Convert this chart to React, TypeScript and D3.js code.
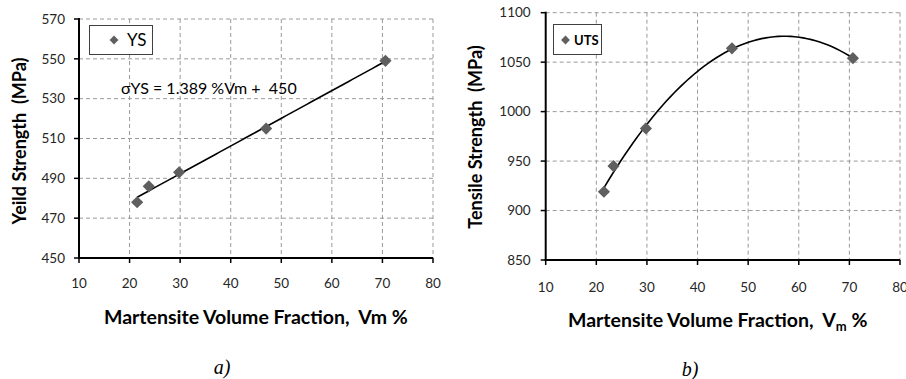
import React, { useEffect, useRef } from 'react';
import * as d3 from 'd3';

// a) yield strength vs martensite volume fraction
const ysVm = [21.5, 23.8, 29.8, 47.0, 70.6];
const ysValues = [478, 486, 493, 515, 549];
const ysTicks = [450, 470, 490, 510, 530, 550, 570];

// b) tensile strength vs martensite volume fraction
const utsVm = [21.5, 23.4, 29.8, 46.8, 70.7];
const utsValues = [919, 945, 983, 1064, 1054];
const utsTicks = [850, 900, 950, 1000, 1050, 1100];

const vmTicks = [10, 20, 30, 40, 50, 60, 70, 80];

const FONT = 'Lato, "Open Sans", sans-serif';

// least squares polynomial fit (degree 1 or 2)
function polyFit(xs: number[], ys: number[], deg: number) {
  const n = deg + 1;
  const A: number[][] = [];
  for (let i = 0; i < n; i++) {
    A.push([]);
    for (let j = 0; j < n; j++) A[i].push(d3.sum(xs, x => Math.pow(x, i + j)));
    A[i].push(d3.sum(xs, (x, k) => Math.pow(x, i) * ys[k]));
  }
  // gauss elimination
  for (let i = 0; i < n; i++) {
    for (let k = i + 1; k < n; k++) {
      const f = A[k][i] / A[i][i];
      for (let j = i; j <= n; j++) A[k][j] -= f * A[i][j];
    }
  }
  const c = new Array(n).fill(0);
  for (let i = n - 1; i >= 0; i--) {
    let s = A[i][n];
    for (let j = i + 1; j < n; j++) s -= A[i][j] * c[j];
    c[i] = s / A[i][i];
  }
  return (x: number) => c.reduce((acc, ci, i) => acc + ci * Math.pow(x, i), 0);
}

type PanelOpts = {
  x0: number; x1: number; yTop: number; yBot: number;
  xs: number[]; ys: number[]; yTicks: number[]; deg: number;
  yTitle: string; yTitleX: number; yTitleY: number;
  labelGap: number; xLabelY: number;
};

function drawPanel(svg: d3.Selection<SVGSVGElement, unknown, null, undefined>, o: PanelOpts) {
  const x = d3.scaleLinear().domain([10, 80]).range([o.x0, o.x1]);
  const y = d3.scaleLinear().domain([o.yTicks[0], o.yTicks[o.yTicks.length - 1]]).range([o.yBot, o.yTop]);
  const g = svg.append('g');

  // dashed grid
  g.selectAll('.gx').data(vmTicks.slice(1)).enter().append('line')
    .attr('x1', d => x(d)).attr('x2', d => x(d))
    .attr('y1', o.yTop).attr('y2', o.yBot)
    .attr('stroke', '#9a9a9a').attr('stroke-dasharray', '4,3').attr('stroke-width', 1);
  g.selectAll('.gy').data(o.yTicks.slice(1)).enter().append('line')
    .attr('x1', o.x0).attr('x2', o.x1)
    .attr('y1', d => y(d)).attr('y2', d => y(d))
    .attr('stroke', '#9a9a9a').attr('stroke-dasharray', '4,3').attr('stroke-width', 1);

  // axes
  g.append('line').attr('x1', o.x0).attr('x2', o.x0).attr('y1', o.yTop - 1).attr('y2', o.yBot + 1)
    .attr('stroke', '#000').attr('stroke-width', 2);
  g.append('line').attr('x1', o.x0 - 1).attr('x2', o.x1).attr('y1', o.yBot).attr('y2', o.yBot)
    .attr('stroke', '#000').attr('stroke-width', 2);

  // ticks
  g.selectAll('.ty').data(o.yTicks).enter().append('line')
    .attr('x1', o.x0 - 5).attr('x2', o.x0).attr('y1', d => y(d)).attr('y2', d => y(d))
    .attr('stroke', '#000').attr('stroke-width', 1.5);
  g.selectAll('.tx').data(vmTicks).enter().append('line')
    .attr('x1', d => x(d)).attr('x2', d => x(d)).attr('y1', o.yBot).attr('y2', o.yBot + 5)
    .attr('stroke', '#000').attr('stroke-width', 1.5);

  g.selectAll('.ly').data(o.yTicks).enter().append('text')
    .attr('x', o.x0 - o.labelGap).attr('y', d => y(d)).attr('dy', '0.35em')
    .attr('text-anchor', 'end').attr('font-family', FONT).attr('font-size', 13.5)
    .attr('fill', '#262626').text(d => d);
  g.selectAll('.lx').data(vmTicks).enter().append('text')
    .attr('x', d => x(d)).attr('y', o.xLabelY).attr('dy', '0.35em')
    .attr('text-anchor', 'middle').attr('font-family', FONT).attr('font-size', 13.5)
    .attr('fill', '#262626').text(d => d);

  // y title
  g.append('text')
    .attr('transform', `translate(${o.yTitleX},${o.yTitleY}) rotate(-90)`)
    .attr('text-anchor', 'middle').attr('dy', '0.35em')
    .attr('font-family', FONT).attr('font-weight', 'bold').attr('font-size', 18)
    .attr('fill', '#000').attr('xml:space', 'preserve')
    .text(o.yTitle);

  // trendline
  const fit = polyFit(o.xs, o.ys, o.deg);
  const [lo, hi] = d3.extent(o.xs) as [number, number];
  const pts = d3.range(lo, hi + 0.001, (hi - lo) / 60).map(v => [v, fit(v)] as [number, number]);
  g.append('path').datum(pts)
    .attr('d', d3.line<[number, number]>().x(d => x(d[0])).y(d => y(d[1])))
    .attr('fill', 'none').attr('stroke', '#000').attr('stroke-width', 1.6);

  // markers
  const diamond = d3.symbol().type(d3.symbolDiamond2).size(95);
  g.selectAll('.pt').data(o.xs).enter().append('path')
    .attr('d', diamond)
    .attr('transform', (d, i) => `translate(${x(d)},${y(o.ys[i])})`)
    .attr('fill', '#5f5f5f');

  return g;
}

const App = () => {
  const ref = useRef<SVGSVGElement>(null);

  useEffect(() => {
    const svg = d3.select(ref.current!);
    svg.selectAll('*').remove();

    const a = drawPanel(svg, {
      x0: 79, x1: 433, yTop: 19, yBot: 258,
      xs: ysVm, ys: ysValues, yTicks: ysTicks, deg: 1,
      yTitle: 'Yeild Strength  (MPa)', yTitleX: 20, yTitleY: 141,
      labelGap: 14, xLabelY: 283,
    });
    // legend a
    a.append('rect').attr('x', 89.5).attr('y', 25.5).attr('width', 63).attr('height', 29)
      .attr('fill', '#fff').attr('stroke', '#404040').attr('stroke-width', 1);
    a.append('path').attr('d', d3.symbol().type(d3.symbolDiamond2).size(50))
      .attr('transform', 'translate(114,40)').attr('fill', '#5f5f5f');
    a.append('text').attr('x', 127).attr('y', 40).attr('dy', '0.35em')
      .attr('font-family', FONT).attr('font-size', 17).attr('fill', '#000').text('YS');
    a.append('text').attr('x', 121).attr('y', 88).attr('dy', '0.35em')
      .attr('font-family', FONT).attr('font-size', 16).attr('fill', '#000')
      .attr('xml:space', 'preserve').text('σYS = 1.389 %Vm +  450');
    a.append('text').attr('x', 104).attr('y', 317).attr('dy', '0.35em')
      .attr('font-family', FONT).attr('font-weight', 'bold').attr('font-size', 19.5)
      .attr('xml:space', 'preserve').text('Martensite Volume Fraction,  Vm %');
    a.append('text').attr('x', 222).attr('y', 367).attr('dy', '0.35em').attr('text-anchor', 'middle')
      .attr('font-family', '"Liberation Serif", serif').attr('font-style', 'italic').attr('font-size', 20)
      .text('a)');

    const b = drawPanel(svg, {
      x0: 545.7, x1: 900, yTop: 12.7, yBot: 260,
      xs: utsVm, ys: utsValues, yTicks: utsTicks, deg: 2,
      yTitle: 'Tensile Strength  (MPa)', yTitleX: 476, yTitleY: 137,
      labelGap: 15, xLabelY: 287,
    });
    b.append('rect').attr('x', 553.5).attr('y', 24.5).attr('width', 48).attr('height', 30)
      .attr('fill', '#fff').attr('stroke', '#404040').attr('stroke-width', 1);
    b.append('path').attr('d', d3.symbol().type(d3.symbolDiamond2).size(50))
      .attr('transform', 'translate(565.5,40)').attr('fill', '#5f5f5f');
    b.append('text').attr('x', 574).attr('y', 40).attr('dy', '0.35em')
      .attr('font-family', FONT).attr('font-weight', 'bold').attr('font-size', 13).attr('fill', '#000').text('UTS');
    const xl = b.append('text').attr('x', 568).attr('y', 320).attr('dy', '0.35em')
      .attr('font-family', FONT).attr('font-weight', 'bold').attr('font-size', 19.5)
      .attr('xml:space', 'preserve');
    xl.append('tspan').text('Martensite Volume Fraction,  V');
    xl.append('tspan').attr('font-size', 13).attr('dy', 4).text('m');
    xl.append('tspan').attr('dy', -4).text(' %');
    b.append('text').attr('x', 690).attr('y', 369).attr('dy', '0.35em').attr('text-anchor', 'middle')
      .attr('font-family', '"Liberation Serif", serif').attr('font-style', 'italic').attr('font-size', 20)
      .text('b)');
  }, []);

  return (
    <svg ref={ref} width={906} height={379}
      style={{ position: 'absolute', left: 0, top: 0, background: '#fff' }} />
  );
};

export default App;
